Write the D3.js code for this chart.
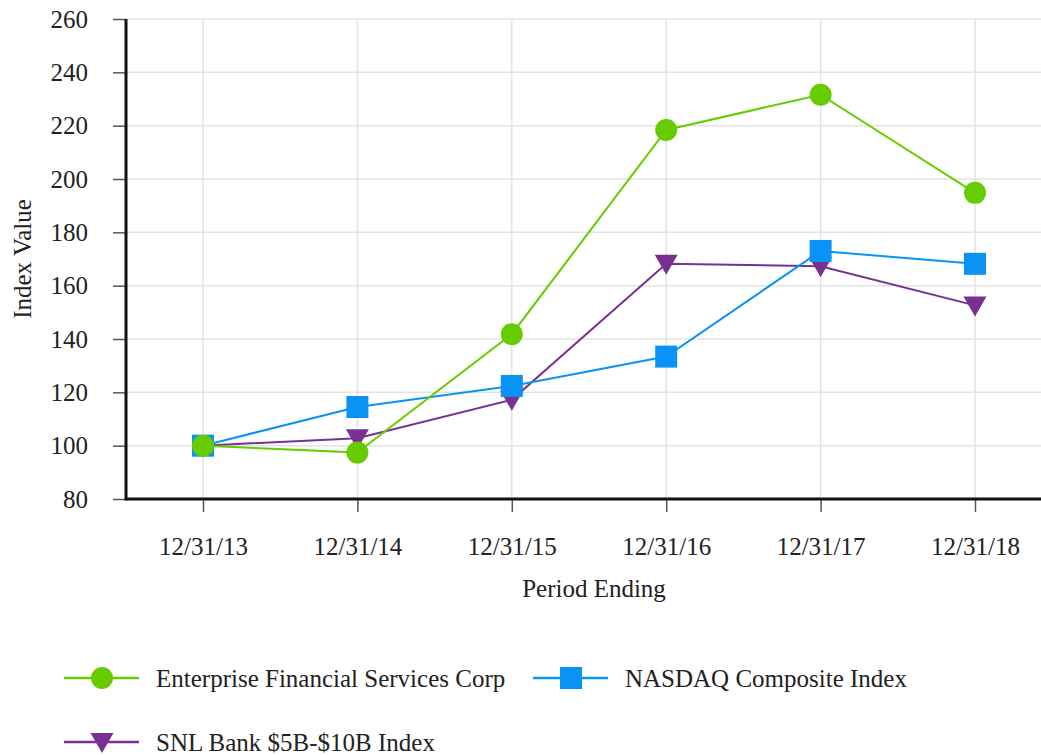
<!DOCTYPE html>
<html>
<head>
<meta charset="utf-8">
<script src="https://cdn.jsdelivr.net/npm/d3@7"></script>
<style>
  body { margin: 0; background: #fff; }
  svg { display: block; font-family: "Liberation Serif", "Times New Roman", serif; }
</style>
</head>
<body>
<div id="chart"></div>
<script>
const WIDTH = 1041;
const HEIGHT = 755;
const FONT = 25;

const PERIODS = ["12/31/13", "12/31/14", "12/31/15", "12/31/16", "12/31/17", "12/31/18"];
const Y_TICKS = [80, 100, 120, 140, 160, 180, 200, 220, 240, 260];
const ENTERPRISE = [100, 97.4, 141.8, 218.4, 231.6, 194.8];
const NASDAQ = [100, 114.5, 122.4, 133.4, 173.0, 168.2];
const SNL = [100, 102.8, 117.2, 168.2, 167.3, 152.6];

const SERIES = [
  { name: "Enterprise Financial Services Corp", values: ENTERPRISE, color: "#66cc00", marker: "circle" },
  { name: "NASDAQ Composite Index", values: NASDAQ, color: "#0a92f5", marker: "square" },
  { name: "SNL Bank $5B-$10B Index", values: SNL, color: "#7a2f92", marker: "triangle" },
];

const svg = d3.select("#chart").append("svg")
  .attr("width", WIDTH)
  .attr("height", HEIGHT);

const x = d3.scalePoint().domain(PERIODS).range([203, 975]);
const y = d3.scaleLinear().domain([80, 260]).range([499, 19]);
const LEFT = 126;

// grid
svg.append("g")
  .selectAll("line")
  .data(Y_TICKS)
  .join("line")
  .attr("x1", LEFT).attr("x2", WIDTH)
  .attr("y1", d => y(d)).attr("y2", d => y(d))
  .attr("stroke", "#e3e3e3").attr("stroke-width", 1.5);

svg.append("g")
  .selectAll("line")
  .data(PERIODS)
  .join("line")
  .attr("x1", d => x(d)).attr("x2", d => x(d))
  .attr("y1", y(260)).attr("y2", y(80))
  .attr("stroke", "#e3e3e3").attr("stroke-width", 1.5);

// axes
const yAxis = svg.append("g")
  .attr("transform", `translate(${LEFT},0)`)
  .call(d3.axisLeft(y).tickValues(Y_TICKS).tickSize(13).tickPadding(25).tickSizeOuter(0));
yAxis.select(".domain").remove();
yAxis.selectAll(".tick line").attr("stroke", "#555").attr("stroke-width", 1.5);
yAxis.selectAll(".tick text")
  .attr("font-size", FONT).attr("font-family", "Liberation Serif").attr("fill", "#222");

const xAxis = svg.append("g")
  .attr("transform", `translate(0,${y(80)})`)
  .call(d3.axisBottom(x).tickSize(13).tickPadding(25).tickSizeOuter(0));
xAxis.select(".domain").remove();
xAxis.selectAll(".tick line").attr("stroke", "#555").attr("stroke-width", 1.5);
xAxis.selectAll(".tick text")
  .attr("font-size", FONT).attr("font-family", "Liberation Serif").attr("fill", "#222");

svg.append("line")
  .attr("x1", LEFT).attr("x2", LEFT)
  .attr("y1", y(260)).attr("y2", y(80) + 1.5)
  .attr("stroke", "#111").attr("stroke-width", 3);
svg.append("line")
  .attr("x1", LEFT).attr("x2", WIDTH)
  .attr("y1", y(80)).attr("y2", y(80))
  .attr("stroke", "#111").attr("stroke-width", 3);

// titles
svg.append("text")
  .attr("transform", `translate(31,${(y(260) + y(80)) / 2}) rotate(-90)`)
  .attr("text-anchor", "middle")
  .attr("font-size", FONT).attr("fill", "#222")
  .text("Index Value");

svg.append("text")
  .attr("x", 594).attr("y", 597)
  .attr("text-anchor", "middle")
  .attr("font-size", FONT).attr("fill", "#222")
  .text("Period Ending");

// markers
const drawMarker = (g, type, color) => {
  if (type === "circle") {
    g.append("circle").attr("r", 11).attr("fill", color);
  } else if (type === "square") {
    g.append("rect").attr("x", -11).attr("y", -11).attr("width", 22).attr("height", 22).attr("fill", color);
  } else {
    g.append("path").attr("d", "M-11.5,-9L11.5,-9L0,11Z").attr("fill", color);
  }
};

const line = d3.line().x((d, i) => x(PERIODS[i])).y(d => y(d));

// draw lines then markers, last series underneath first
const order = [2, 1, 0];
order.forEach(k => {
  const s = SERIES[k];
  svg.append("path")
    .datum(s.values)
    .attr("d", line)
    .attr("fill", "none")
    .attr("stroke", s.color)
    .attr("stroke-width", 2);
});
order.forEach(k => {
  const s = SERIES[k];
  s.values.forEach((v, i) => {
    const g = svg.append("g").attr("transform", `translate(${x(PERIODS[i])},${y(v)})`);
    drawMarker(g, s.marker, s.color);
  });
});

// legend
const LEGEND_POS = [[64, 678], [533, 678], [64, 742]];
SERIES.forEach((s, k) => {
  const [lx, ly] = LEGEND_POS[k];
  const g = svg.append("g").attr("transform", `translate(${lx},${ly})`);
  g.append("line").attr("x1", 0).attr("x2", 75).attr("stroke", s.color).attr("stroke-width", 2.5);
  const m = g.append("g").attr("transform", "translate(38,0)");
  drawMarker(m, s.marker, s.color);
  g.append("text")
    .attr("x", 92).attr("dy", "0.35em")
    .attr("font-size", FONT).attr("fill", "#222")
    .text(s.name);
});
</script>
</body>
</html>
